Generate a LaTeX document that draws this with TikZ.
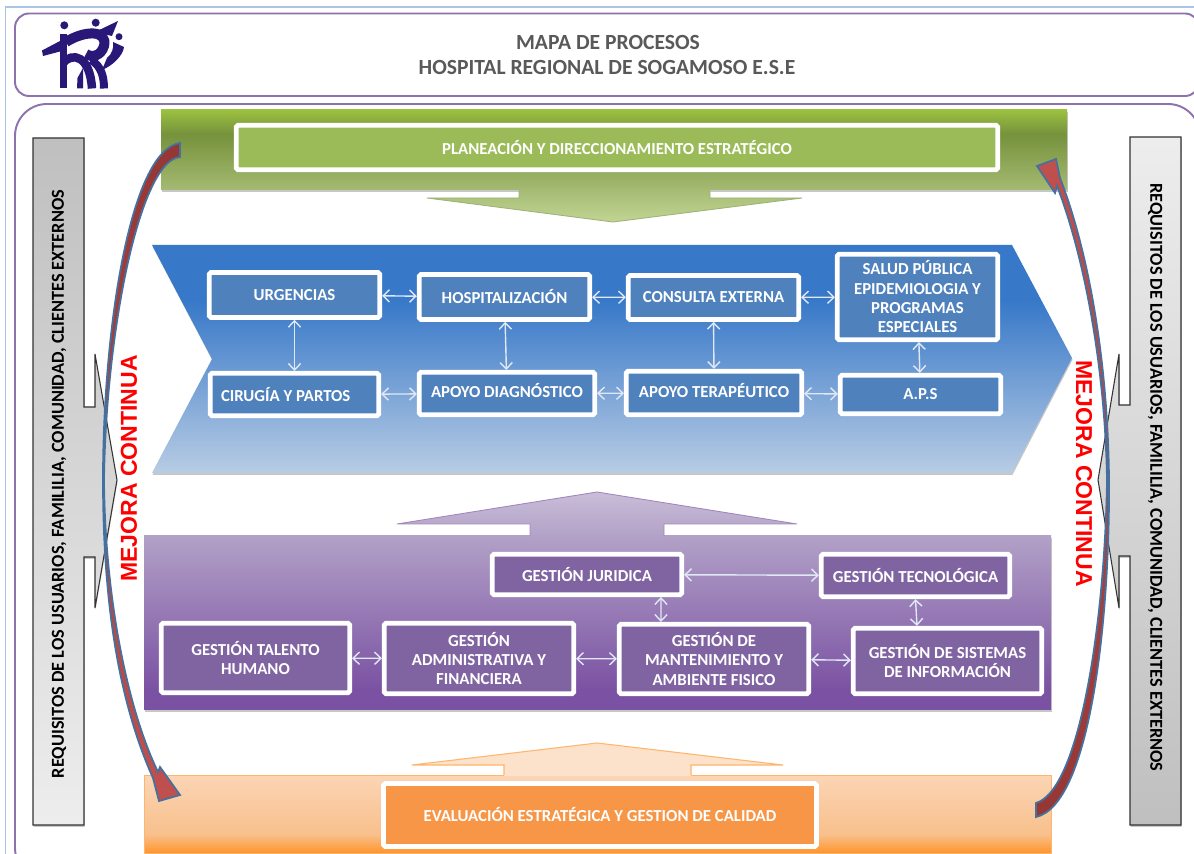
\documentclass[tikz,border=0pt]{standalone}
\usepackage{fontspec}
\setmainfont{Carlito}
\newfontfamily\redfont{Liberation Sans}
\usetikzlibrary{arrows.meta,shadows}
\definecolor{framepurple}{HTML}{8E72AE}
\definecolor{frameblue}{HTML}{A9C4E4}
\definecolor{logonavy}{HTML}{2A1878}
\definecolor{titlegray}{HTML}{595959}
\definecolor{greenA}{HTML}{9BC140}
\definecolor{greenB}{HTML}{76923C}
\definecolor{greenC}{HTML}{A4BA72}
\definecolor{greenD}{HTML}{C2D594}
\definecolor{blueA}{HTML}{3778C8}
\definecolor{blueB}{HTML}{B8CCE4}
\definecolor{purpleA}{HTML}{B2A1C7}
\definecolor{purpleB}{HTML}{7B52A3}
\definecolor{orangeA}{HTML}{FBD5B5}
\definecolor{orangeB}{HTML}{F8C08C}
\definecolor{orangeC}{HTML}{FF952B}
\definecolor{curveline}{HTML}{44719F}
\definecolor{curvedark}{HTML}{953735}
\definecolor{curvelight}{HTML}{C0504D}
\definecolor{boxgreen}{HTML}{9BBB59}
\definecolor{boxblue}{HTML}{4F81BD}
\definecolor{boxpurple}{HTML}{8064A2}
\definecolor{boxorange}{HTML}{F79646}
\definecolor{linkwhite}{HTML}{E1E8F5}
\pgfdeclareverticalshading{greenband}{100bp}{color(0bp)=(greenC);color(25bp)=(greenC);color(60bp)=(greenB);color(75bp)=(greenA);color(100bp)=(greenA)}
\pgfdeclareverticalshading{blueband}{100bp}{color(0bp)=(blueB);color(25bp)=(blueB);color(63bp)=(blueA);color(75bp)=(blueA);color(100bp)=(blueA)}
\pgfdeclareverticalshading{purpleband}{100bp}{color(0bp)=(purpleB);color(31bp)=(purpleB);color(75bp)=(purpleA);color(100bp)=(purpleA)}
\pgfdeclareverticalshading{orangeband}{100bp}{color(0bp)=(orangeC);color(25bp)=(orangeC);color(37bp)=(orangeB);color(75bp)=(orangeA);color(100bp)=(orangeA)}
\tikzset{
  softshadow/.style={drop shadow={shadow xshift=0.3pt,shadow yshift=-1pt,opacity=.22,fill=black}},
  framebox/.style={draw=framepurple,line width=1.1pt},
  procbox/.style={draw=white,line width=2.7pt,rounded corners=1pt,text=white,align=center,inner sep=0pt,
    font=\fontsize{9.55}{11}\selectfont\bfseries,softshadow},
  bluebox/.style={procbox,fill=boxblue},
  purplebox/.style={procbox,fill=boxpurple},
  sidetext/.style={font=\fontsize{10.4}{12}\selectfont\bfseries,text=black,inner sep=0pt},
  redtext/.style={font=\redfont\fontsize{13.1}{16}\selectfont\bfseries,text=red,inner sep=0pt},
  titletext/.style={font=\fontsize{12.3}{14}\selectfont\bfseries,text=titlegray},
  sidebar/.style={draw=black!80,line width=.6pt},
  curvearrow/.style={draw=curveline,line width=1pt},
  link/.style={{Straight Barb[length=3.6pt,width=7pt]}-{Straight Barb[length=3.6pt,width=7pt]},draw=linkwhite,line width=.8pt}
}
\begin{document}
\begin{tikzpicture}[x=0.02cm,y=-0.02cm]
\useasboundingbox (0,0) rectangle (1194,854);
\clip (0,0) rectangle (1194,854);
\fill[white] (0,0) rectangle (1194,854);
\draw[frameblue,line width=.6pt] (1200,7) -- (5.5,7) -- (5.5,860);
\draw[framebox,rounded corners=.28cm] (15,13.5) rectangle (1199,96);
\draw[framebox,rounded corners=.64cm] (15,104) rectangle (1200,880);
% logo
\fill[logonavy] (64.3,25.3) circle (4) (95.7,22.7) circle (4) (119,36.7) circle (3.5);
\fill[logonavy] (59.5,34) rectangle (67,88.5);
\fill[logonavy] (42,50.5) -- (60,41) -- (60,51.5) -- (43,56) -- cycle;
\fill[logonavy] (95,32) -- (118,21) -- (112,36) -- cycle;
\fill[logonavy] (113,42) -- (124,47) .. controls (123,56) and (112,66) .. (102,70) -- (107,58) .. controls (112,54) and (114,48) .. cycle;
\fill[logonavy] (77,88.5) -- (77.5,78) -- (83,68) -- (83,88.5) -- cycle;
\draw[logonavy,line width=.17cm] (63,63) .. controls (72,52) and (90,55) .. (92,88.5);
\draw[logonavy,line width=.2cm] (66,42) .. controls (85,30) and (108,30) .. (104,46) .. controls (101,56) and (92,58) .. (86,54);
\draw[logonavy,line width=.16cm] (91,60) .. controls (101,66) and (104,76) .. (104,88.5);
% title
\node[titletext] (title1) at (608,42) {MAPA DE PROCESOS};
\node[titletext] (title2) at (607,67) {HOSPITAL REGIONAL DE SOGAMOSO E.S.E};
% side bars
\draw[sidebar,top color=black!25,bottom color=black!7,softshadow] (33,138) -- (84,138) -- (84,407) -- (95,407) -- (95,354) -- (117,480) -- (95,608) -- (95,557) -- (84,557) -- (84,825) -- (33,825) -- cycle;
\draw[sidebar,top color=black!7,bottom color=black!25,softshadow] (1181,137) -- (1130,137) -- (1130,405) -- (1119,405) -- (1119,354) -- (1098,480) -- (1119,608) -- (1119,556) -- (1130,556) -- (1130,825) -- (1181,825) -- cycle;
\node[sidetext,rotate=90] (reqleft) at (59,484) {REQUISITOS DE LOS USUARIOS, FAMILILIA, COMUNIDAD, CLIENTES EXTERNOS};
\node[sidetext,rotate=-90] (reqright) at (1155,477.5) {REQUISITOS DE LOS USUARIOS, FAMILILIA, COMUNIDAD, CLIENTES EXTERNOS};
% bands
\shade[shading=greenband,softshadow] (161,110) rectangle (1067,190);
\shade[top color=greenC,bottom color=greenD] (519,188) -- (519,198) -- (427,198) -- (613,222) -- (802,198) -- (710,198) -- (710,188) -- cycle;
\draw[greenB!70!white,line width=.5pt] (519,191) -- (519,198) -- (427,198) -- (613,222) -- (802,198) -- (710,198) -- (710,191);
\shade[shading=blueband,softshadow] (152,245) -- (1012,245) -- (1072,358) -- (1012,473) -- (152,473) -- (212,359) -- cycle;
\shade[shading=purpleband,softshadow] (144,536) rectangle (1051,710);
\shade[top color=purpleA!70!white,bottom color=purpleA] (530,537) -- (530,524) -- (397,524) -- (597,492) -- (797,524) -- (664,524) -- (664,537) -- cycle;
\draw[purpleB!70!white,line width=.5pt] (530,536) -- (530,524) -- (397,524) -- (597,492) -- (797,524) -- (664,524) -- (664,536);
\shade[shading=orangeband] (144,775) rectangle (1051,853);
\draw[orangeC!70!white,line width=.5pt] (144,853) -- (144,775) -- (1051,775) -- (1051,853) -- cycle;
\fill[orangeA!70!white] (504,776) -- (504,765) -- (412,765) -- (597,743) -- (783,765) -- (691,765) -- (691,776) -- cycle;
\draw[orangeC!70!white,line width=.6pt] (504,775) -- (504,765) -- (412,765) -- (597,743) -- (783,765) -- (691,765) -- (691,775);
% curved arrows
\draw[curvearrow,top color=curvedark,bottom color=curvelight] (180,143) .. controls (130,150) and (103,330) .. (103,480) .. controls (103,600) and (118,700) .. (153,778) -- (159,801) -- (180,795) -- (160,767) -- (158,772) .. controls (128,710) and (105,600) .. (104,480) .. controls (106,330) and (140,160) .. (180,157) -- cycle;
\draw[curvearrow,top color=curvelight,bottom color=curvedark] (1109,480) .. controls (1108,360) and (1088,250) .. (1060,178) -- (1056,159) -- (1037,166) -- (1055,193) -- (1057,186) .. controls (1082,250) and (1105,360) .. (1107,480) .. controls (1105,620) and (1080,790) .. (1036,803) -- (1036,817) .. controls (1090,805) and (1110,620) .. (1109,480) -- cycle;
\node[redtext,rotate=90] (mejleft) at (129,468.5) {MEJORA CONTINUA};
\node[redtext,rotate=-90] (mejright) at (1084,473.5) {MEJORA CONTINUA};
% process boxes
\node[procbox,fill=boxgreen,minimum width=15.23cm,minimum height=.89cm] (plan) at (617,147.5) {PLANEACIÓN Y DIRECCIONAMIENTO ESTRATÉGICO};
\node[bluebox,minimum width=3.41cm,minimum height=.9cm] (urg) at (294.5,295) {URGENCIAS};
\node[bluebox,minimum width=3.41cm,minimum height=.9cm] (hosp) at (504.5,297) {HOSPITALIZACIÓN};
\node[bluebox,minimum width=3.41cm,minimum height=.88cm] (cons) at (713.5,297.5) {CONSULTA EXTERNA};
\node[bluebox,minimum width=3.21cm,minimum height=1.71cm] (salud) at (917.5,297) {SALUD PÚBLICA\\EPIDEMIOLOGIA Y\\PROGRAMAS\\ESPECIALES};
\node[bluebox,minimum width=3.37cm,minimum height=.85cm] (cir) at (294.5,394.5) {\hspace*{-10pt}CIRUGÍA Y PARTOS};
\node[bluebox,minimum width=3.51cm,minimum height=.85cm] (diag) at (507,393.5) {\raisebox{3pt}{APOYO DIAGNÓSTICO}};
\node[bluebox,minimum width=3.51cm,minimum height=.87cm] (tera) at (714,393) {\raisebox{3pt}{APOYO TERAPÉUTICO}};
\node[bluebox,minimum width=3.21cm,minimum height=.77cm] (aps) at (920.5,394.5) {A.P.S};
\node[purplebox,minimum width=3.79cm,minimum height=.81cm] (jur) at (587,574.5) {GESTIÓN JURIDICA};
\node[purplebox,minimum width=3.77cm,minimum height=.85cm] (tec) at (915.5,575.5) {GESTIÓN TECNOLÓGICA};
\node[purplebox,minimum width=3.77cm,minimum height=1.39cm] (tal) at (255.5,658) {GESTIÓN TALENTO\\HUMANO};
\node[purplebox,minimum width=3.79cm,minimum height=1.41cm] (adm) at (479,658.5) {GESTIÓN\\ADMINISTRATIVA Y\\FINANCIERA};
\node[purplebox,minimum width=3.79cm,minimum height=1.39cm] (man) at (714,659) {GESTIÓN DE\\MANTENIMIENTO Y\\AMBIENTE FISICO};
\node[purplebox,minimum width=3.77cm,minimum height=1.31cm] (sis) at (947.5,661) {GESTIÓN DE SISTEMAS\\DE INFORMACIÓN};
\node[procbox,fill=boxorange,minimum width=8.66cm,minimum height=1.26cm] (eval) at (600,815) {EVALUACIÓN ESTRATÉGICA Y GESTION DE CALIDAD};
% connectors
\draw[link] (urg) -- (hosp);
\draw[link] (hosp) -- (cons);
\draw[link] (cons) -- (salud);
\draw[link] (cir) -- (diag);
\draw[link] (diag) -- (tera);
\draw[link] (tera) -- (aps);
\draw[link] (urg) -- (cir);
\draw[link] (hosp) -- (diag);
\draw[link] (cons) -- (tera);
\draw[link] (salud) -- (aps);
\draw[link] (jur) -- (tec);
\draw[link] ([xshift=1.48cm]jur.south) -- ([xshift=-1.06cm]man.north);
\draw[link] (tec.south) -- ([xshift=-.61cm]sis.north);
\draw[link] (tal) -- (adm);
\draw[link] (adm) -- (man);
\draw[link] (man) -- (sis);
\end{tikzpicture}
\end{document}
